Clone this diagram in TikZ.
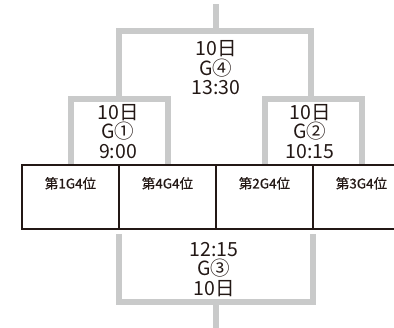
\documentclass[tikz,border=0pt]{standalone}
\usepackage{fontspec}
\setmainfont{Noto Sans CJK JP}
\newfontfamily\teamfont[FakeBold=0.6]{Noto Sans CJK JP}
\usepackage{tikz}
\usetikzlibrary{positioning}
\definecolor{wire}{HTML}{C9CACA}
\definecolor{ink}{HTML}{231815}

\begin{document}
\begin{tikzpicture}[x=1pt, y=-1pt,
  bracket/.style={draw=wire, line width=6pt},
  cell/.style={draw=ink, line width=2.5pt, outer sep=0pt, inner sep=0pt,
    minimum width=97pt, text height=23.5pt, text depth=40.5pt,
    font=\teamfont\fontsize{13.5}{13.5}\selectfont, text=ink},
  game/.style={align=center, inner sep=0pt, text=ink,
    font=\fontsize{19.5}{19.5}\selectfont}]
\useasboundingbox (0,0) rectangle (394,328);
\clip (0,0) rectangle (394,328);
% teams
\node[cell] (c1) at (70.5,197) {第1G4位};
\node[cell, right=0pt of c1] (c2) {第4G4位};
\node[cell, right=0pt of c2] (c3) {第2G4位};
\node[cell, right=0pt of c3] (c4) {第3G4位};
% joints
\coordinate (j1) at (119,99);
\coordinate (j2) at (311,99);
\coordinate (j4) at (216,31);
\coordinate (j3) at (216,302);
\coordinate (top) at (216,4);
\coordinate (bot) at (216,330);
% upper side
\draw[bracket] ([yshift=1.25pt]c1.north) |- (j1) -| ([yshift=1.25pt]c2.north);
\draw[bracket] ([yshift=1.25pt]c3.north) |- (j2) -| ([yshift=1.25pt]c4.north);
\draw[bracket] (j1) |- (j4) -| (j2);
\draw[bracket] (j4) -- (top);
% lower side
\draw[bracket] ([yshift=-5pt]c1.south east) |- (j3) -| ([yshift=-5pt]c3.south east);
\draw[bracket] (j3) -- (bot);
% games
\node[game] (g4) at (216,68) {10日\\G④\\13:30};
\node[game] (g1) at (118,131.5) {10日\\G①\\9:00};
\node[game] (g2) at (310,131.5) {10日\\G②\\10:15};
\node[game] (g3) at (214,269.5) {12:15\\G③\\10日};
\end{tikzpicture}
\end{document}
